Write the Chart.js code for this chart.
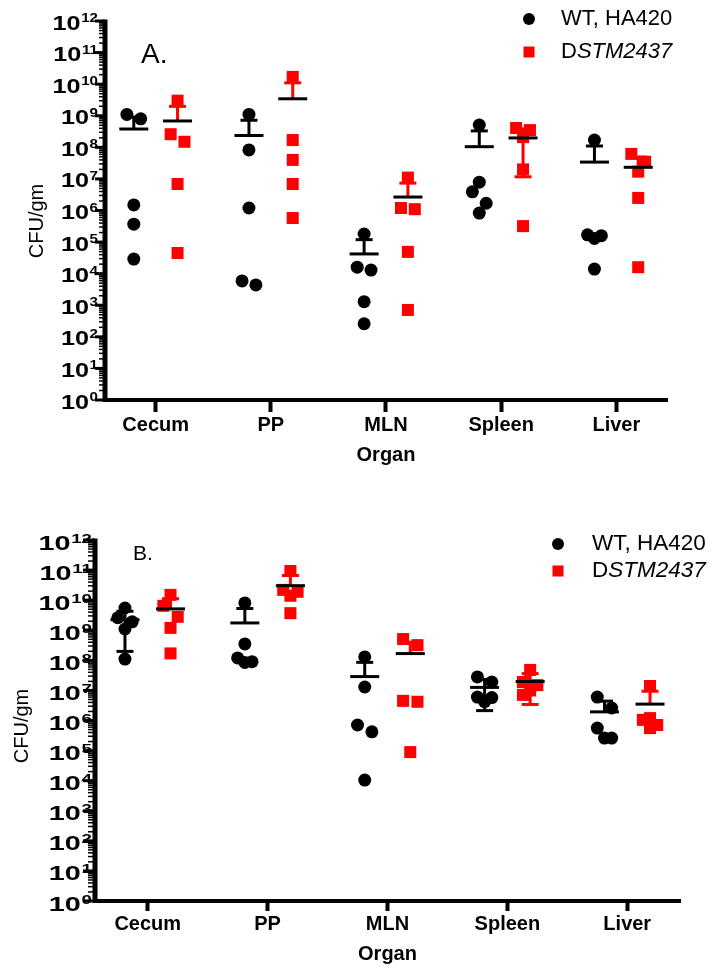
<!DOCTYPE html>
<html>
<head>
<meta charset="utf-8">
<script src="https://cdn.jsdelivr.net/npm/chart.js@4.4.1/dist/chart.umd.min.js"></script>
<style>
  html, body { margin: 0; padding: 0; background: #fff; }
  .panel { width: 715px; height: 484px; }
</style>
</head>
<body>
<div class="panel"><canvas id="chartA" width="715" height="484"></canvas></div>
<div class="panel"><canvas id="chartB" width="715" height="484"></canvas></div>
<script>
// categories + legend names
const organs = ['Cecum', 'PP', 'MLN', 'Spleen', 'Liver'];
const seriesNames = ['WT, HA420', 'DSTM2437'];
const yExponents = [0, 1, 2, 3, 4, 5, 6, 7, 8, 9, 10, 11, 12];

// Panel A - CFU/gm per animal, one list per organ
const wtA = [
  [1.1e9, 8.0e8, 1.5e6, 3.7e5, 2.9e4],
  [1.1e9, 8.3e7, 1.2e6, 5.9e3, 4.4e3],
  [1.8e5, 1.6e4, 1.3e4, 1.3e3, 2.6e2],
  [5.1e8, 7.9e6, 3.9e6, 1.7e6, 8.3e5],
  [1.7e8, 1.7e5, 1.6e5, 1.3e5, 1.4e4]
];
const mutA = [
  [3.0e9, 2.6e8, 1.5e8, 6.9e6, 4.5e4],
  [1.7e10, 1.7e8, 4.0e7, 6.9e6, 5.8e5],
  [1.1e7, 1.2e6, 1.1e6, 4.9e4, 7.1e2],
  [4.1e8, 3.5e8, 2.1e8, 2.0e7, 3.2e5],
  [6.2e7, 3.5e7, 1.7e7, 2.5e6, 1.6e4]
];

// Panel B
const wtB = [
  [5.5e9, 2.6e9, 1.9e9, 1.1e9, 1.1e8],
  [8.1e9, 3.5e8, 1.2e8, 9.0e7, 8.5e7],
  [1.3e8, 1.3e7, 7.1e5, 4.2e5, 1.05e4],
  [2.8e7, 1.9e7, 6.0e6, 5.8e6, 4.2e6],
  [6.0e6, 2.6e6, 5.6e5, 2.6e5, 2.6e5]
];
const mutB = [
  [1.5e10, 6.5e9, 2.8e9, 1.2e9, 1.7e8],
  [9.3e10, 2.2e10, 1.9e10, 1.4e10, 3.7e9],
  [5.1e8, 3.2e8, 4.5e6, 4.2e6, 8.9e4],
  [4.8e7, 1.9e7, 1.5e7, 1.0e7, 7.1e6],
  [1.4e7, 1.2e6, 1.05e6, 7.1e5, 5.6e5]
];

const FONT = "'Liberation Sans', Arial, Helvetica, sans-serif";
const RED = '#ff0000';
const SIDE = 0.19;   // WT left of the organ tick, mutant right
const STEP = 0.06;   // sideways nudge for dots that would overlap

function mean(a) { return a.reduce((s, v) => s + v, 0) / a.length; }
function sd(a) {
  const m = mean(a);
  return Math.sqrt(a.reduce((s, v) => s + (v - m) * (v - m), 0) / (a.length - 1));
}

// simple scatter-dot layout: runs of near-equal values get spread sideways
function spread(vals) {
  const order = vals.map((v, i) => i).sort((a, b) => vals[b] - vals[a]);
  const off = vals.map(() => 0);
  let run = [order[0]];
  const flush = () => {
    if (run.length < 2) return;
    const pat = run.length === 2 ? [-1, 1] : run.length === 3 ? [-1, 1, 0] : [0, -1, 1];
    run.forEach((k, j) => { off[k] = pat[j % pat.length] * STEP; });
  };
  for (let j = 1; j < order.length; j++) {
    if (Math.log10(vals[order[j - 1]]) - Math.log10(vals[order[j]]) < 0.41) run.push(order[j]);
    else { flush(); run = [order[j]]; }
  }
  flush();
  return off;
}

function points(groups, side) {
  return groups.flatMap((g, i) => {
    const off = spread(g);
    return g.map((v, k) => ({ x: i + side * SIDE + off[k], y: v }));
  });
}

function means(groups, side) {
  return groups.map((g, i) => ({ x: i + side * SIDE, y: mean(g), sd: sd(g) }));
}

function line(ctx, x1, y1, x2, y2) {
  ctx.beginPath(); ctx.moveTo(x1, y1); ctx.lineTo(x2, y2); ctx.stroke();
}

// error bars (mean +/- SD) drawn right before each mean-line dataset
const errorBars = {
  id: 'errorBars',
  beforeDatasetDraw(chart, args) {
    const ds = chart.data.datasets[args.index];
    if (!ds.isMean) return;
    const ctx = chart.ctx, xs = chart.scales.x, ys = chart.scales.y;
    ctx.save();
    ctx.strokeStyle = ds.barColor;
    ctx.lineWidth = 3;
    ds.data.forEach(p => {
      const x = xs.getPixelForValue(p.x);
      const ym = ys.getPixelForValue(p.y);
      const yt = ys.getPixelForValue(p.y + p.sd);
      line(ctx, x, ym, x, yt);
      line(ctx, x - 8.5, yt, x + 8.5, yt);
      if (p.y - p.sd > 0) {
        const yb = ys.getPixelForValue(p.y - p.sd);
        line(ctx, x, ym, x, yb);
        line(ctx, x - 8.5, yb, x + 8.5, yb);
      }
    });
    ctx.restore();
  }
};

// log y axis with 10^n labels, panel letter, legend, y title
const decor = {
  id: 'decor',
  afterDraw(chart, args, o) {
    const ctx = chart.ctx, ca = chart.chartArea, ys = chart.scales.y;
    ctx.save();
    ctx.strokeStyle = '#000';
    ctx.fillStyle = '#000';
    ctx.lineWidth = 5;
    line(ctx, ca.left, ys.getPixelForValue(1e12) - 1.5, ca.left, ca.bottom + 2);
    yExponents.forEach(e => {
      const y = ys.getPixelForValue(Math.pow(10, e));
      ctx.lineWidth = 3;
      line(ctx, ca.left - 2 - o.major, y, ca.left, y);
      if (e < 12) {
        ctx.lineWidth = 1.5;
        for (let m = 2; m <= 9; m++) {
          const ym = ys.getPixelForValue(m * Math.pow(10, e));
          line(ctx, ca.left - 2 - o.minor, ym, ca.left, ym);
        }
      }
      ctx.save();
      ctx.translate(o.labelRight, y);
      ctx.scale(o.stretch, 1);
      ctx.textAlign = 'right';
      ctx.textBaseline = 'alphabetic';
      ctx.font = 'bold ' + o.supSize + 'px ' + FONT;
      const sup = String(e);
      const w = ctx.measureText(sup).width;
      ctx.fillText(sup, 0, o.supBase);
      ctx.font = 'bold 20px ' + FONT;
      ctx.fillText('10', -w - 0.5, o.base);
      ctx.restore();
    });

    // y title
    ctx.save();
    ctx.translate(o.yTitle[0], o.yTitle[1]);
    ctx.rotate(-Math.PI / 2);
    ctx.textAlign = 'center';
    ctx.textBaseline = 'middle';
    ctx.font = '20px ' + FONT;
    ctx.fillText('CFU/gm', 0, 0);
    ctx.restore();

    // panel letter
    ctx.textAlign = 'left';
    ctx.textBaseline = 'alphabetic';
    ctx.font = o.title.size + 'px ' + FONT;
    ctx.fillText(o.title.text, o.title.x, o.title.y);

    // legend
    const lg = o.legend;
    ctx.beginPath();
    ctx.arc(lg.x, lg.y[0], 6, 0, Math.PI * 2);
    ctx.fill();
    ctx.fillStyle = RED;
    ctx.fillRect(lg.x - 5.5, lg.y[1] - 5.5, 11, 11);
    ctx.fillStyle = '#000';
    ctx.textBaseline = 'middle';
    ctx.font = lg.size + 'px ' + FONT;
    ctx.fillText(seriesNames[0], lg.tx, lg.y[0]);
    const first = seriesNames[1].charAt(0);
    ctx.fillText(first, lg.tx, lg.y[1]);
    const dw = ctx.measureText(first).width;
    ctx.font = 'italic ' + lg.size + 'px ' + FONT;
    ctx.fillText(seriesNames[1].slice(1), lg.tx + dw, lg.y[1]);
    ctx.restore();
  }
};

function makePanel(id, wt, mut, g) {
  return new Chart(document.getElementById(id), {
    type: 'scatter',
    data: {
      datasets: [
        { label: seriesNames[0], data: points(wt, -1), pointStyle: 'circle', pointRadius: 6.5,
          backgroundColor: '#000', borderWidth: 0, order: 1 },
        { label: seriesNames[1], data: points(mut, 1), pointStyle: 'rect', pointRadius: 8.5,
          backgroundColor: RED, borderWidth: 0, order: 1 },
        { label: 'mean WT', data: means(wt, -1), isMean: true, barColor: '#000', pointStyle: 'line',
          pointRadius: 14.5, borderColor: '#000', borderWidth: 3, order: 0 },
        { label: 'mean mutant', data: means(mut, 1), isMean: true, barColor: RED, pointStyle: 'line',
          pointRadius: 14.5, borderColor: '#000', borderWidth: 3, order: 0 }
      ]
    },
    options: {
      responsive: false,
      animation: false,
      events: [],
      layout: { padding: { top: g.top, right: g.right, left: 0, bottom: 0 } },
      plugins: {
        legend: { display: false },
        tooltip: { enabled: false },
        decor: g
      },
      scales: {
        x: {
          type: 'linear', min: -0.44, max: 4.44,
          afterBuildTicks: s => { s.ticks = organs.map((_, i) => ({ value: i })); },
          afterFit: s => { s.height = g.xHeight; },
          ticks: {
            callback: v => organs[v], color: '#000', padding: 1, maxRotation: 0, autoSkip: false,
            font: { family: FONT, size: 20, weight: 'bold' }
          },
          grid: { display: true, drawOnChartArea: false, drawTicks: true, tickLength: g.tickLen,
                  tickWidth: 4, tickColor: '#000' },
          border: { display: true, width: 4, color: '#000' },
          title: { display: true, text: 'Organ', color: '#000',
                   font: { family: FONT, size: 20, weight: 'bold' },
                   padding: { top: 0, bottom: g.orgPad } }
        },
        y: {
          type: 'logarithmic', min: 1, max: 1e12,
          afterFit: s => { s.width = g.left; },
          ticks: { display: false },
          grid: { display: false },
          border: { display: false }
        }
      }
    },
    plugins: [errorBars, decor]
  });
}

makePanel('chartA', wtA, mutA, {
  top: 21, right: 48, left: 105, xHeight: 84, tickLen: 12, orgPad: 17,
  labelRight: 98, stretch: 1.26, base: 8.5, supBase: 1, supSize: 12, major: 8, minor: 4,
  yTitle: [37, 221], title: { text: 'A.', x: 141, y: 63, size: 28 },
  legend: { x: 529, tx: 561, y: [19, 52], size: 22 }
});

makePanel('chartB', wtB, mutB, {
  top: 56, right: 35, left: 95, xHeight: 67, tickLen: 10, orgPad: 1.5,
  labelRight: 92, stretch: 1.44, base: 9.5, supBase: 2.5, supSize: 13, major: 10, minor: 5,
  yTitle: [22, 242], title: { text: 'B.', x: 133, y: 75.5, size: 21 },
  legend: { x: 558, tx: 592, y: [60, 87], size: 22.5 }
});
</script>
</body>
</html>
